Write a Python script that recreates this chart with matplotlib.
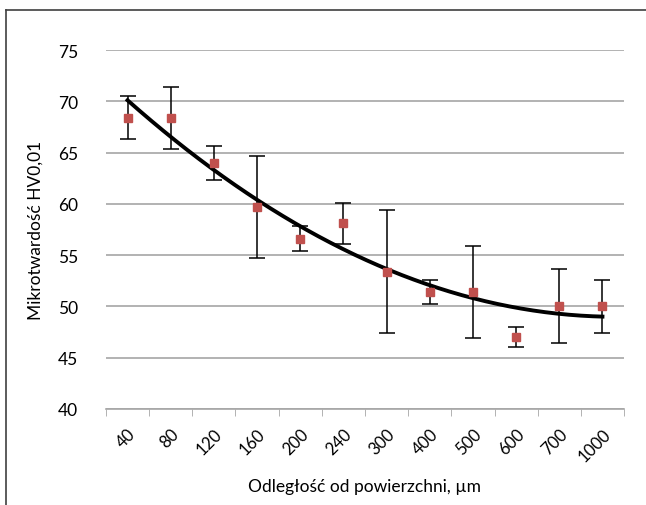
import numpy as np
import matplotlib.pyplot as plt
from matplotlib.lines import Line2D

# dane
odleglosc = ['40', '80', '120', '160', '200', '240', '300', '400', '500', '600', '700', '1000']
twardosc = [68.4, 68.4, 64.0, 59.7, 56.6, 58.1, 53.4, 51.4, 51.4, 47.0, 50.0, 50.0]
blad = [2.1, 3.0, 1.65, 5.0, 1.2, 2.0, 6.0, 1.2, 4.5, 1.0, 3.6, 2.6]

plt.rcParams['font.family'] = ['Lato', 'DejaVu Sans']

fig = plt.figure(figsize=(6.46, 5.06), dpi=100)
ax = fig.add_axes([0.164, 0.19, 0.802, 0.709])

x = np.arange(1, len(odleglosc) + 1)

# linia trendu (wielomian 2 stopnia, jak w Excelu)
wsp = np.polyfit(x, twardosc, 2)
xs = np.linspace(1, len(odleglosc), 200)
ax.plot(xs, np.polyval(wsp, xs), color='black', lw=2.8, zorder=2)

ax.errorbar(x, twardosc, yerr=blad, fmt='s', color='#c0504d', ms=6,
            ecolor='black', elinewidth=1.1, capsize=6, capthick=1.1, zorder=3)

ax.set_xlim(0.5, len(odleglosc) + 0.5)
ax.set_ylim(40, 75)
ax.set_yticks(np.arange(40, 76, 5))
ax.grid(axis='y', color='#a6a6a6', lw=1.2)
ax.set_axisbelow(True)

ax.set_xticks(x)
ax.set_xticklabels(odleglosc, rotation=45, ha='right', rotation_mode='anchor', fontsize=12)
ax.tick_params(axis='x', which='major', length=0, pad=12)
ax.set_xticks(np.arange(0.5, len(odleglosc) + 1, 1), minor=True)
ax.tick_params(axis='x', which='minor', length=5, color='#a6a6a6', direction='out')
ax.tick_params(axis='y', length=0, labelsize=12.5, pad=20)

for s in ['top', 'right', 'left']:
    ax.spines[s].set_visible(False)
ax.spines['bottom'].set_color('#a6a6a6')
ax.spines['bottom'].set_linewidth(1.2)

ax.set_ylabel('Mikrotwardość HV0,01', fontsize=12.5, labelpad=10)
ax.set_xlabel('Odległość od powierzchni, µm', fontsize=12.5, labelpad=10)

# ramka wokół wykresu
fig.add_artist(Line2D([6/646, 6/646], [0, 1 - 11/506], color='#404040', lw=1.2))
fig.add_artist(Line2D([6/646, 1], [1 - 11/506, 1 - 11/506], color='#404040', lw=1.2))

plt.savefig('out.png', dpi=100)
